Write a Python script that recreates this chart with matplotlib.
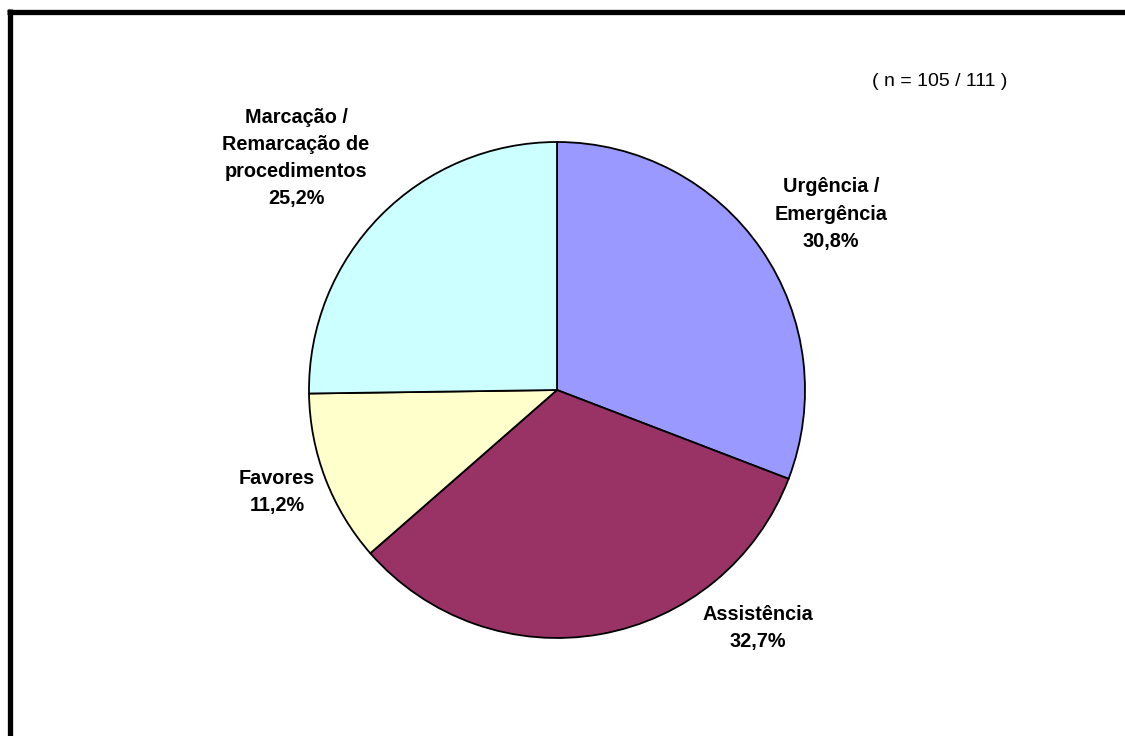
import matplotlib.pyplot as plt

plt.rcParams['font.family'] = ['Liberation Sans', 'DejaVu Sans']

labels = ['Urgência /\nEmergência\n30,8%', 'Assistência\n32,7%', 'Favores\n11,2%',
          'Marcação /\nRemarcação de\nprocedimentos\n25,2%']
values = [30.8, 32.7, 11.2, 25.2]
colors = ['#9999FF', '#993366', '#FFFFCC', '#CCFFFF']
label_pos = [(831, 214), (758, 628), (277, 492), (296, 158)]

W, H = 1125, 736
fig = plt.figure(figsize=(W / 100, H / 100), dpi=100)
ax = fig.add_axes([0, 0, 1, 1])

ax.pie(values, colors=colors, startangle=90, counterclock=False,
       center=(557, H - 390), radius=248, frame=True,
       wedgeprops=dict(edgecolor='black', linewidth=1.3))

for lab, (px, py) in zip(labels, label_pos):
    ax.text(px, H - py, lab, ha='center', va='center', fontsize=14.3,
            fontweight='bold', linespacing=1.55)

ax.text(940, H - 82, '( n = 105 / 111 )', ha='center', va='center', fontsize=14)

# frame of the original chart (top and left edges only)
ax.plot([7, W], [H - 11.5, H - 11.5], color='black', linewidth=3.8, solid_capstyle='butt')
ax.plot([9.5, 9.5], [0, H - 9], color='black', linewidth=3.8, solid_capstyle='butt')

ax.set_xlim(0, W)
ax.set_ylim(0, H)
ax.set_aspect('equal')
ax.axis('off')

fig.savefig('out.png', dpi=100)
